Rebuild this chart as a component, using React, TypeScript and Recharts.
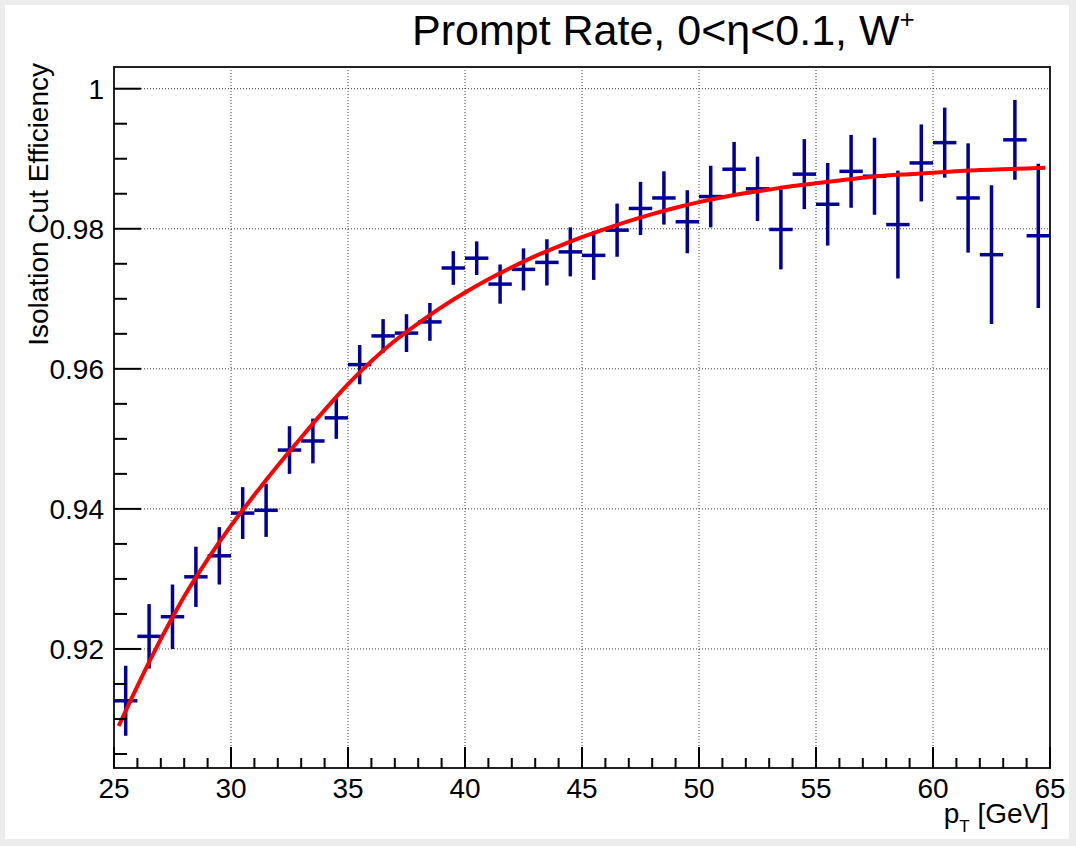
import {
  ComposedChart, Scatter, Line, ErrorBar, XAxis, YAxis,
  CartesianGrid, ReferenceArea,
} from 'recharts'

// ── 데이터 ────────────────────────────────────────────────────────────

const BIN_CENTERS = [
  25.5, 26.5, 27.5, 28.5, 29.5, 30.5, 31.5, 32.5, 33.5, 34.5,
  35.5, 36.5, 37.5, 38.5, 39.5, 40.5, 41.5, 42.5, 43.5, 44.5,
  45.5, 46.5, 47.5, 48.5, 49.5, 50.5, 51.5, 52.5, 53.5, 54.5,
  55.5, 56.5, 57.5, 58.5, 59.5, 60.5, 61.5, 62.5, 63.5, 64.5,
]
const BIN_HALF_WIDTH = 0.5

const EFFICIENCY = [
  0.9126, 0.9218, 0.9246, 0.9303, 0.9333, 0.9394, 0.9398, 0.9484, 0.9497, 0.9530,
  0.9606, 0.9647, 0.9651, 0.9667, 0.9744, 0.9758, 0.9721, 0.9742, 0.9752, 0.9767,
  0.9762, 0.9798, 0.9829, 0.9844, 0.9810, 0.9846, 0.9885, 0.9857, 0.9799, 0.9878,
  0.9835, 0.9882, 0.9875, 0.9806, 0.9894, 0.9923, 0.9844, 0.9763, 0.9927, 0.9790,
]

const EFF_ERROR = [
  0.0050, 0.0046, 0.0046, 0.0043, 0.0041, 0.0037, 0.0038, 0.0034, 0.0032, 0.0030,
  0.0028, 0.0024, 0.0027, 0.0027, 0.0024, 0.0024, 0.0028, 0.0030, 0.0033, 0.0035,
  0.0035, 0.0038, 0.0038, 0.0038, 0.0045, 0.0044, 0.0039, 0.0046, 0.0057, 0.0050,
  0.0059, 0.0052, 0.0055, 0.0077, 0.0055, 0.0050, 0.0078, 0.0099, 0.0057, 0.0103,
]

/* 피팅 곡선 */
const FIT_X = [
  25.2, 26, 27, 28, 29, 30, 31, 32, 33, 34, 35, 36, 37, 38, 39, 40, 41, 42, 43, 44,
  45, 46, 47, 48, 49, 50, 51, 52, 53, 54, 55, 56, 57, 58, 59, 60, 61, 62, 63, 64, 64.8,
]
const FIT_Y = [
  0.9090, 0.9147, 0.9214, 0.9275, 0.9328, 0.9376, 0.9420, 0.9462, 0.9502, 0.9541,
  0.9578, 0.9611, 0.9640, 0.9665, 0.9688, 0.9709, 0.9728, 0.9745, 0.9761, 0.9775,
  0.9788, 0.9800, 0.9811, 0.9821, 0.9830, 0.9838, 0.9845, 0.9851, 0.9856, 0.9861,
  0.9865, 0.9869, 0.9873, 0.9876, 0.9878, 0.9880, 0.9882, 0.9884, 0.9885, 0.9886, 0.9887,
]

/* 축 눈금 */
const X_DOMAIN = [25, 65]
const Y_DOMAIN = [0.903, 1.0031]
const X_MAJOR = [25, 30, 35, 40, 45, 50, 55, 60, 65]
const X_TICKS = [
  25, 26, 27, 28, 29, 30, 31, 32, 33, 34, 35, 36, 37, 38, 39, 40, 41, 42, 43, 44, 45,
  46, 47, 48, 49, 50, 51, 52, 53, 54, 55, 56, 57, 58, 59, 60, 61, 62, 63, 64, 65,
]
const Y_MAJOR = [0.92, 0.94, 0.96, 0.98, 1]
const Y_TICKS = [
  0.905, 0.91, 0.915, 0.92, 0.925, 0.93, 0.935, 0.94, 0.945, 0.95,
  0.955, 0.96, 0.965, 0.97, 0.975, 0.98, 0.985, 0.99, 0.995, 1,
]
const X_GRID = [30, 35, 40, 45, 50, 55, 60]

const BLUE = '#000099'
const RED = '#ff0000'
const FONT = "'Liberation Sans', Arial, Helvetica, sans-serif"

const points = BIN_CENTERS.map((x, i) => ({
  x, y: EFFICIENCY[i], ex: BIN_HALF_WIDTH, ey: EFF_ERROR[i],
}))
const fitData = FIT_X.map((x, i) => ({ x, y: FIT_Y[i] }))

// ── 커스텀 눈금 (ROOT 스타일: 안쪽으로 그림) ────────────────────────────────

function XTick(props: any) {
  const { x, y, payload } = props
  const axisY = y - 8
  const major = X_MAJOR.includes(payload.value)
  return (
    <g>
      <line x1={x} x2={x} y1={axisY} y2={axisY - (major ? 21 : 10)} stroke="#000" strokeWidth={2} />
      {major && (
        <text x={x} y={axisY + 30} textAnchor="middle" fontSize={28} fontFamily={FONT} fill="#000">
          {payload.value}
        </text>
      )}
    </g>
  )
}

function YTick(props: any) {
  const { x, y, payload } = props
  const axisX = x + 8
  const major = Y_MAJOR.includes(payload.value)
  return (
    <g>
      <line x1={axisX} x2={axisX + (major ? 27 : 13)} y1={y} y2={y} stroke="#000" strokeWidth={2} />
      {major && (
        <text x={axisX - 10} y={y + 10} textAnchor="end" fontSize={28} fontFamily={FONT} fill="#000">
          {String(payload.value)}
        </text>
      )}
    </g>
  )
}

const noShape = () => <g />

export default function App() {
  return (
    <div style={{ position: 'absolute', left: 0, top: 0, width: 1076, height: 846, background: '#ececec' }}>
      <div style={{ position: 'absolute', left: 5, top: 5, right: 7, bottom: 7, background: '#fff' }} />
      <div style={{ position: 'absolute', left: 0, top: 0 }}>
        <ComposedChart
          width={1076}
          height={846}
          margin={{ top: 67, right: 26, bottom: 18, left: 14 }}
          style={{ fontFamily: FONT }}
        >
          <CartesianGrid
            horizontalValues={Y_MAJOR}
            verticalValues={X_GRID}
            stroke="#000"
            strokeOpacity={0.75}
            strokeDasharray="1 2"
          />
          <XAxis
            dataKey="x"
            type="number"
            domain={X_DOMAIN}
            ticks={X_TICKS}
            interval={0}
            allowDataOverflow
            axisLine={false}
            tickLine={false}
            tickSize={0}
            tickMargin={8}
            height={60}
            tick={<XTick />}
          />
          <YAxis
            dataKey="y"
            type="number"
            domain={Y_DOMAIN}
            ticks={Y_TICKS}
            interval={0}
            allowDataOverflow
            axisLine={false}
            tickLine={false}
            tickSize={0}
            tickMargin={8}
            width={100}
            tick={<YTick />}
          />

          <Scatter data={points} dataKey="y" shape={noShape} isAnimationActive={false}>
            <ErrorBar dataKey="ey" direction="y" width={0} stroke={BLUE} strokeWidth={3.5} />
            <ErrorBar dataKey="ex" direction="x" width={0} stroke={BLUE} strokeWidth={3.5} />
          </Scatter>

          <Line
            data={fitData}
            dataKey="y"
            type="monotone"
            stroke={RED}
            strokeWidth={4}
            dot={false}
            activeDot={false}
            isAnimationActive={false}
          />

          {/* 프레임 */}
          <ReferenceArea
            x1={X_DOMAIN[0]} x2={X_DOMAIN[1]}
            y1={Y_DOMAIN[0]} y2={Y_DOMAIN[1]}
            fill="none" stroke="#222" strokeWidth={2}
          />

          {/* 제목과 축 제목 */}
          <text x={412} y={45} fontSize={43} fontFamily={FONT} fill="#000">
            Prompt Rate, 0&lt;η&lt;0.1, W
            <tspan fontSize={26} dy={-17}>+</tspan>
          </text>
          <text
            x={48} y={63}
            transform="rotate(-90, 48, 63)"
            textAnchor="end"
            fontSize={28}
            fontFamily={FONT}
            fill="#000"
          >
            Isolation Cut Efficiency
          </text>
          <text x={1049} y={823} textAnchor="end" fontSize={28} fontFamily={FONT} fill="#000">
            p<tspan fontSize={17} dy={9}>T</tspan>
            <tspan dy={-9}> [GeV]</tspan>
          </text>
        </ComposedChart>
      </div>
    </div>
  )
}
